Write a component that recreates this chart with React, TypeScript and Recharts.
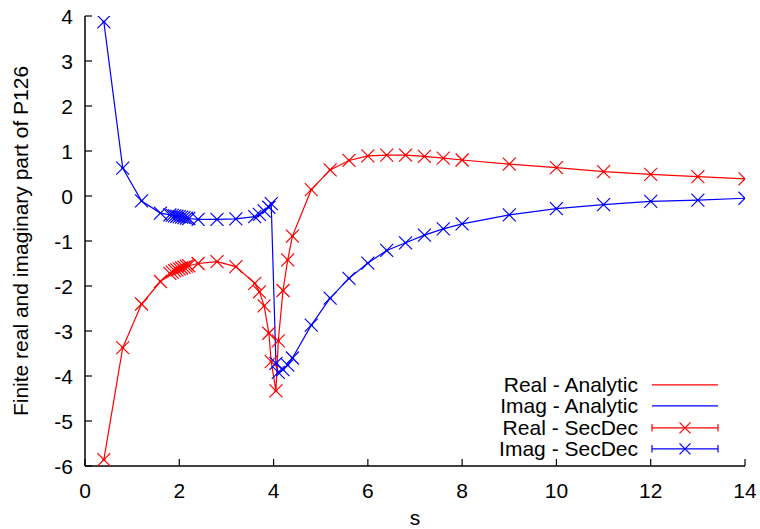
import { ComposedChart, Line, Scatter, XAxis, YAxis, Legend } from "recharts";

// s values where both the analytic curve and SecDec points are sampled
const sValues = [
  0.4, 0.8, 1.2, 1.6, 1.8, 1.85, 1.9, 1.95, 2.0, 2.05, 2.1, 2.15, 2.2, 2.4, 2.8, 3.2,
  3.6, 3.7, 3.8, 3.9, 3.95, 4.05, 4.1, 4.2, 4.3, 4.4, 4.8, 5.2, 5.6, 6.0, 6.4, 6.8,
  7.2, 7.6, 8, 9, 10, 11, 12, 13, 14,
];
const realValues = [
  -5.86, -3.37, -2.4, -1.9, -1.72, -1.69, -1.66, -1.64, -1.62, -1.6, -1.58, -1.56, -1.55, -1.5, -1.46, -1.57,
  -1.94, -2.13, -2.44, -3.05, -3.68, -4.33, -3.22, -2.1, -1.42, -0.89, 0.14, 0.58, 0.79, 0.89, 0.91, 0.91,
  0.88, 0.84, 0.8, 0.71, 0.63, 0.54, 0.48, 0.43, 0.38,
];
const imagValues = [
  3.87, 0.62, -0.11, -0.38, -0.42, -0.43, -0.44, -0.45, -0.46, -0.47, -0.48, -0.49, -0.5, -0.52, -0.52, -0.51,
  -0.46, -0.41, -0.33, -0.25, -0.17, -3.72, -3.92, -3.86, -3.76, -3.6, -2.87, -2.27, -1.83, -1.49, -1.21, -1.04,
  -0.87, -0.73, -0.62, -0.42, -0.28, -0.19, -0.12, -0.09, -0.05,
];
const xTicks = [0, 2, 4, 6, 8, 10, 12, 14];
const yTicks = [-6, -5, -4, -3, -2, -1, 0, 1, 2, 3, 4];
const legendItems = [
  { name: "Real - Analytic", color: "#ff0000", marker: false },
  { name: "Imag - Analytic", color: "#0000ff", marker: false },
  { name: "Real - SecDec", color: "#ff0000", marker: true },
  { name: "Imag - SecDec", color: "#0000ff", marker: true },
];

const rows = sValues.map((s, i) => ({ s, re: realValues[i], im: imagValues[i] }));

const FONT = '"Liberation Sans", Arial, Helvetica, sans-serif';
const TICK = 7;

const BottomTick = ({ x, y, payload }: any) => (
  <g>
    <line x1={x} y1={y} x2={x} y2={y - TICK} stroke="#000" strokeWidth={1.2} />
    <text x={x} y={y + 32} textAnchor="middle" fontSize={21} fontFamily={FONT} fill="#000">
      {payload.value}
    </text>
  </g>
);

const TopTick = ({ x, y }: any) => (
  <line x1={x} y1={y} x2={x} y2={y + TICK} stroke="#000" strokeWidth={1.2} />
);

const LeftTick = ({ x, y, payload }: any) => (
  <g>
    <line x1={x} y1={y} x2={x + TICK} y2={y} stroke="#000" strokeWidth={1.2} />
    <text x={x - 12} y={y + 7.5} textAnchor="end" fontSize={21} fontFamily={FONT} fill="#000">
      {payload.value}
    </text>
  </g>
);

const RightTick = ({ x, y }: any) => (
  <line x1={x} y1={y} x2={x - TICK} y2={y} stroke="#000" strokeWidth={1.2} />
);

const makeCross = (color: string) => (props: any) => {
  const { cx, cy } = props;
  const r = 6.5;
  return (
    <g stroke={color} strokeWidth={1.2}>
      <line x1={cx - r} y1={cy - r} x2={cx + r} y2={cy + r} />
      <line x1={cx - r} y1={cy + r} x2={cx + r} y2={cy - r} />
      <line x1={cx - 1.5} y1={cy} x2={cx + 1.5} y2={cy} strokeWidth={2} />
    </g>
  );
};

const LegendBox = () => (
  <div style={{ fontFamily: FONT, fontSize: 21, lineHeight: "21.6px" }}>
    {legendItems.map((item) => (
      <div key={item.name} style={{ display: "flex", alignItems: "center", height: 21.6 }}>
        <span style={{ width: 150, textAlign: "right", color: "#000" }}>{item.name}</span>
        <svg width={80} height={21.6} style={{ marginLeft: 10 }}>
          <line x1={4} y1={10.8} x2={70} y2={10.8} stroke={item.color} strokeWidth={1.2} />
          {item.marker && (
            <g stroke={item.color} strokeWidth={1.2}>
              <line x1={4} y1={7} x2={4} y2={14.6} />
              <line x1={70} y1={7} x2={70} y2={14.6} />
              <line x1={31.5} y1={5.3} x2={42.5} y2={16.3} />
              <line x1={31.5} y1={16.3} x2={42.5} y2={5.3} />
            </g>
          )}
        </svg>
      </div>
    ))}
  </div>
);

export default function App() {
  return (
    <div style={{ position: "absolute", left: 0, top: 0, width: 760, height: 529, background: "#fff" }}>
      <ComposedChart width={760} height={529} data={rows} margin={{ top: 16, right: 15, bottom: 0, left: 0 }}>
        <XAxis
          dataKey="s"
          type="number"
          domain={[0, 14]}
          ticks={xTicks}
          allowDataOverflow
          height={63}
          axisLine={{ stroke: "#000", strokeWidth: 1.5 }}
          tickLine={false}
          tickSize={0}
          tickMargin={0}
          tick={<BottomTick />}
          interval={0}
          label={{
            content: () => (
              <text x={415} y={525} textAnchor="middle" fontSize={21} fontFamily={FONT} fill="#000">
                s
              </text>
            ),
          }}
        />
        <XAxis
          xAxisId="top"
          orientation="top"
          dataKey="s"
          type="number"
          domain={[0, 14]}
          ticks={xTicks}
          allowDataOverflow
          height={0}
          axisLine={{ stroke: "#000", strokeWidth: 1.5 }}
          tickLine={false}
          tickSize={0}
          tickMargin={0}
          tick={<TopTick />}
          interval={0}
        />
        <YAxis
          type="number"
          domain={[-6, 4]}
          ticks={yTicks}
          allowDataOverflow
          width={85}
          axisLine={{ stroke: "#000", strokeWidth: 1.5 }}
          tickLine={false}
          tickSize={0}
          tickMargin={0}
          tick={<LeftTick />}
          interval={0}
          label={{
            content: () => (
              <text
                x={0}
                y={0}
                transform="translate(28, 241) rotate(-90)"
                textAnchor="middle"
                fontSize={21}
                fontFamily={FONT}
                fill="#000"
              >
                Finite real and imaginary part of P126
              </text>
            ),
          }}
        />
        <YAxis
          yAxisId="right"
          orientation="right"
          type="number"
          domain={[-6, 4]}
          ticks={yTicks}
          allowDataOverflow
          width={0}
          axisLine={{ stroke: "#000", strokeWidth: 1.5 }}
          tickLine={false}
          tickSize={0}
          tickMargin={0}
          tick={<RightTick />}
          interval={0}
        />
        <Line dataKey="re" stroke="#ff0000" strokeWidth={1.2} dot={false} isAnimationActive={false} />
        <Line dataKey="im" stroke="#0000ff" strokeWidth={1.2} dot={false} isAnimationActive={false} />
        <Scatter dataKey="re" fill="#ff0000" shape={makeCross("#ff0000")} isAnimationActive={false} />
        <Scatter dataKey="im" fill="#0000ff" shape={makeCross("#0000ff")} isAnimationActive={false} />
        <Legend
          layout="vertical"
          align="center"
          verticalAlign="middle"
          content={() => <LegendBox />}
          wrapperStyle={{ position: "absolute", left: 488, top: 373.5, width: 250 }}
        />
      </ComposedChart>
    </div>
  );
}
